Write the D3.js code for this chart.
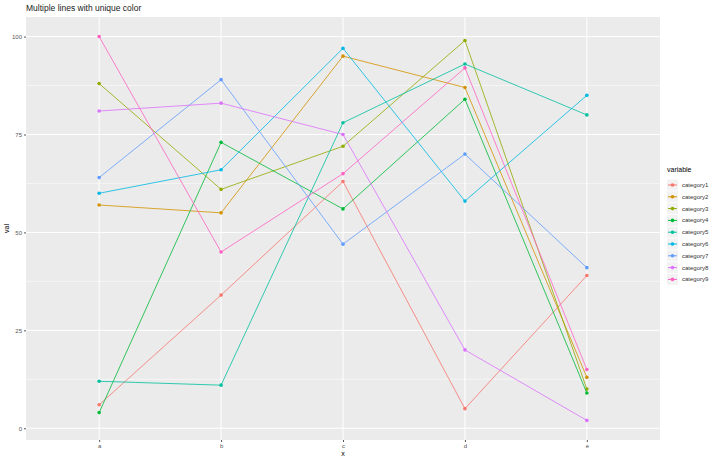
<!DOCTYPE html>
<html><head><meta charset="utf-8">
<script src="https://cdn.jsdelivr.net/npm/d3@7"></script>
<style>body{margin:0;background:#fff;font-family:"Liberation Sans",Arial,sans-serif}</style>
</head><body><svg id="c" width="720" height="457"></svg>
<script>
const categories = ["a","b","c","d","e"];
const seriesNames = ["category1","category2","category3","category4","category5","category6","category7","category8","category9"];
const cat1 = [6,34,63,5,39];
const cat2 = [57,55,95,87,13];
const cat3 = [88,61,72,99,10];
const cat4 = [4,73,56,84,9];
const cat5 = [12,11,78,93,80];
const cat6 = [60,66,97,58,85];
const cat7 = [64,89,47,70,41];
const cat8 = [81,83,75,20,2];
const cat9 = [100,45,65,92,15];
const colors = ["#F8766D","#D39200","#93AA00","#00BA38","#00C19F","#00B9E3","#619CFF","#DB72FB","#FF61C3"];
const yTicks = [0,25,50,75,100];
const allSeries = [cat1,cat2,cat3,cat4,cat5,cat6,cat7,cat8,cat9];

const svg = d3.select("#c");
const L=26, R=660, T=17, B=440;
svg.append("rect").attr("x",L).attr("y",T).attr("width",R-L).attr("height",B-T).attr("fill","#EBEBEB");
const x = d3.scalePoint().domain(categories).range([L,R]).padding(0.6);
const y = d3.scaleLinear().domain([-3,105]).range([B,T]);
// minor grid
const minor=[12.5,37.5,62.5,87.5];
svg.selectAll(".mg").data(minor).join("line").attr("x1",L).attr("x2",R)
  .attr("y1",d=>y(d)).attr("y2",d=>y(d)).attr("stroke","#fff").attr("stroke-width",0.5);
svg.selectAll(".gy").data(yTicks).join("line").attr("x1",L).attr("x2",R)
  .attr("y1",d=>y(d)).attr("y2",d=>y(d)).attr("stroke","#fff").attr("stroke-width",1);
svg.selectAll(".gx").data(categories).join("line").attr("y1",T).attr("y2",B)
  .attr("x1",d=>x(d)).attr("x2",d=>x(d)).attr("stroke","#fff").attr("stroke-width",1);
const ya = d3.axisLeft(y).tickValues(yTicks).tickSize(2).tickPadding(2);
const yg = svg.append("g").attr("transform",`translate(${L},0)`).call(ya);
const xa = d3.axisBottom(x).tickSize(2).tickPadding(2);
const xg = svg.append("g").attr("transform",`translate(0,${B})`).call(xa);
[yg,xg].forEach(g=>{g.select(".domain").remove();g.selectAll("line").attr("stroke","#555");
  g.selectAll("text").attr("fill","#555").style("font-size","6px");});
const line = d3.line().x((d,i)=>x(categories[i])).y(d=>y(d));
allSeries.forEach((s,k)=>{
  svg.append("path").datum(s).attr("d",line).attr("fill","none").attr("stroke",colors[k]).attr("stroke-width",1).attr("opacity",0.8);
  svg.selectAll(null).data(s).join("circle").attr("cx",(d,i)=>x(categories[i])).attr("cy",d=>y(d))
    .attr("r",1.8).attr("fill",colors[k]);
});
svg.append("text").attr("x",L).attr("y",11).text("Multiple lines with unique color").style("font-size","8.5px").attr("fill","#222");
svg.append("text").attr("x",(L+R)/2).attr("y",456).attr("text-anchor","middle").text("x").style("font-size","7px");
svg.append("text").attr("transform",`translate(9,${(T+B)/2}) rotate(-90)`).attr("text-anchor","middle").text("val").style("font-size","7px");
svg.append("text").attr("x",667).attr("y",172).text("variable").style("font-size","7px");
seriesNames.forEach((n,k)=>{
  const yy=185+k*11.8;
  svg.append("rect").attr("x",667).attr("y",yy-5.5).attr("width",11).attr("height",11).attr("fill","#F2F2F2");
  svg.append("line").attr("x1",668).attr("x2",677).attr("y1",yy).attr("y2",yy).attr("stroke",colors[k]);
  svg.append("circle").attr("cx",672.5).attr("cy",yy).attr("r",1.8).attr("fill",colors[k]);
  svg.append("text").attr("x",682).attr("y",yy+2).text(n).style("font-size","6px").attr("fill","#333");
});
</script></body></html>
